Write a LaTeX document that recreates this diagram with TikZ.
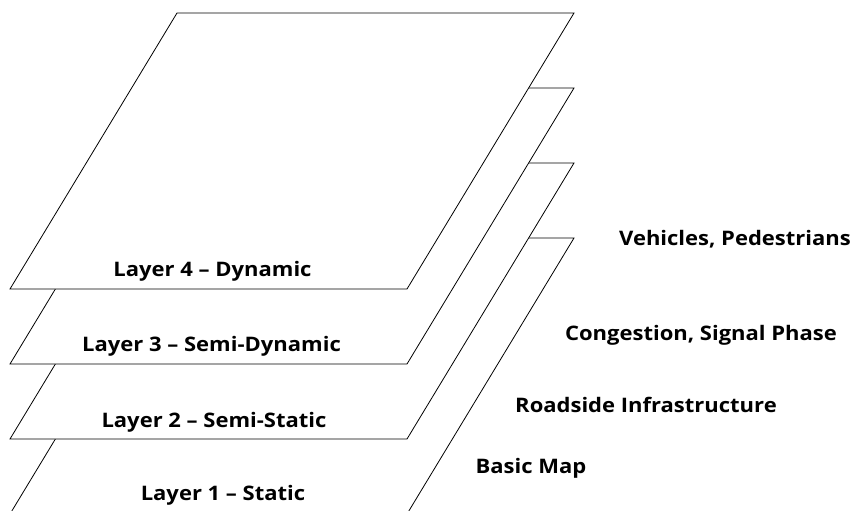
\documentclass[tikz,border=0pt]{standalone}
\usepackage{fontspec}
\setmainfont[FakeStretch=1.10]{Open Sans}
\begin{document}
\begin{tikzpicture}[x=1pt,y=-1pt,
  layer/.style={draw=black,fill=white,line width=0.8pt,line join=miter},
  lbl/.style={font=\bfseries\fontsize{20}{24}\selectfont,inner sep=0pt,anchor=base}]
\useasboundingbox (0,0) rectangle (851,511);
% stacked map layers, bottom first so each one covers the one below
\foreach \i/\dy in {1/225,2/150,3/75,4/0}{
  \draw[layer] (177,13+\dy) -- (574,13+\dy) -- (407,289+\dy) -- (10,289+\dy) -- cycle;
}
% layer names
\node[lbl] (l4) at (212.5,276) {Layer 4 – Dynamic};
\node[lbl] (l3) at (211.5,351) {Layer 3 – Semi-Dynamic};
\node[lbl] (l2) at (214,427) {Layer 2 – Semi-Static};
\node[lbl] (l1) at (223,500) {Layer 1 – Static};
% contents of each layer
\node[lbl] (d4) at (735,245) {Vehicles, Pedestrians};
\node[lbl] (d3) at (701,340) {Congestion, Signal Phase};
\node[lbl] (d2) at (646,412) {Roadside Infrastructure};
\node[lbl] (d1) at (531,473) {Basic Map};
\end{tikzpicture}
\end{document}
